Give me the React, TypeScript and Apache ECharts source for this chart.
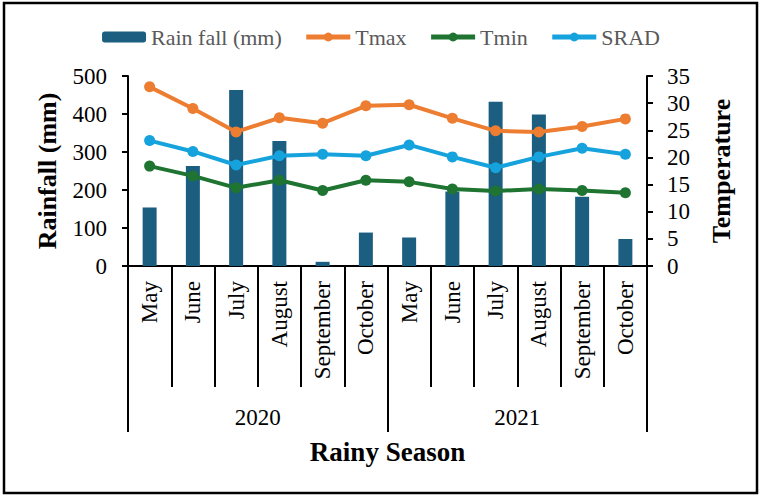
import React, { useEffect, useRef } from "react";
import * as echarts from "echarts";

const months = ["May", "June", "July", "August", "September", "October", "May", "June", "July", "August", "September", "October"];
const years = ["2020", "2021"];
const rainfall = [154, 263, 463, 329, 11, 88, 75, 196, 432, 399, 182, 71];
const tmax = [33.0, 29.0, 24.7, 27.3, 26.3, 29.5, 29.7, 27.2, 24.9, 24.7, 25.7, 27.1];
const tmin = [18.4, 16.6, 14.4, 15.8, 13.9, 15.8, 15.5, 14.2, 13.8, 14.2, 13.9, 13.5];
const srad = [23.1, 21.1, 18.6, 20.3, 20.6, 20.3, 22.3, 20.1, 18.1, 20.1, 21.7, 20.6];

const FONT = "'Liberation Serif', 'Times New Roman', serif";

export default function App() {
  const ref = useRef<HTMLDivElement>(null);
  useEffect(() => {
    if (!ref.current) return;
    const chart = echarts.init(ref.current, undefined, { renderer: "svg" });
    const lineSeries = (name: string, data: number[], color: string) => ({
      name,
      type: "line",
      xAxisIndex: 0,
      yAxisIndex: 1,
      data,
      symbol: "circle",
      symbolSize: 11,
      lineStyle: { color, width: 4 },
      itemStyle: { color },
      z: 3,
    });
    chart.setOption({
      animation: false,
      backgroundColor: "#ffffff",
      textStyle: { fontFamily: FONT },
      legend: {
        top: 21,
        left: 390,
        itemWidth: 44,
        itemHeight: 11,
        itemGap: 22,
        lineStyle: { width: 5 },
        textStyle: { fontFamily: FONT, fontSize: 22, color: "#595959" },
        data: ["Rain fall (mm)", "Tmax", "Tmin", "SRAD"],
      },
      grid: { left: 128, right: 115, top: 76, bottom: 232, containLabel: false },
      xAxis: [
        {
          type: "category",
          data: months,
          position: "bottom",
          boundaryGap: true,
          axisLine: { show: true, lineStyle: { color: "#000", width: 2 } },
          axisTick: { show: true, interval: 0, length: 121, lineStyle: { color: "#000", width: 2 } },
          axisLabel: {
            interval: 0,
            rotate: 90,
            margin: 15,
            fontFamily: FONT,
            fontSize: 23,
            color: "#000",
          },
          splitLine: { show: false },
        },
        {
          type: "category",
          data: years,
          position: "bottom",
          boundaryGap: true,
          axisLine: { show: false },
          axisTick: { show: true, interval: 0, length: 166, lineStyle: { color: "#000", width: 2 } },
          axisLabel: { interval: 0, margin: 140, fontFamily: FONT, fontSize: 23, color: "#000" },
          name: "Rainy Season",
          nameLocation: "middle",
          nameGap: 172,
          nameTextStyle: { fontFamily: FONT, fontSize: 27, fontWeight: "bold", color: "#000" },
          splitLine: { show: false },
        },
      ],
      yAxis: [
        {
          type: "value",
          min: 0,
          max: 500,
          interval: 100,
          position: "left",
          axisLine: { show: true, lineStyle: { color: "#000", width: 2 } },
          axisTick: { show: true, length: 6, lineStyle: { color: "#000", width: 2 } },
          axisLabel: { margin: 21, fontFamily: FONT, fontSize: 23, color: "#000" },
          splitLine: { show: false },
          name: "Rainfall (mm)",
          nameLocation: "middle",
          nameGap: 68,
          nameRotate: 90,
          nameTextStyle: { fontFamily: FONT, fontSize: 26, fontWeight: "bold", color: "#000" },
        },
        {
          type: "value",
          min: 0,
          max: 35,
          interval: 5,
          position: "right",
          axisLine: { show: true, lineStyle: { color: "#000", width: 2 } },
          axisTick: { show: true, length: 6, lineStyle: { color: "#000", width: 2 } },
          axisLabel: { margin: 20, fontFamily: FONT, fontSize: 23, color: "#000" },
          splitLine: { show: false },
          name: "Temperature",
          nameLocation: "middle",
          nameGap: 61,
          nameRotate: 90,
          nameTextStyle: { fontFamily: FONT, fontSize: 26, fontWeight: "bold", color: "#000" },
        },
      ],
      series: [
        {
          name: "Rain fall (mm)",
          type: "bar",
          xAxisIndex: 0,
          yAxisIndex: 0,
          data: rainfall,
          barWidth: 14,
          itemStyle: { color: "#1B5E80" },
          z: 2,
        },
        lineSeries("Tmax", tmax, "#ED7D31"),
        lineSeries("Tmin", tmin, "#1E7430"),
        lineSeries("SRAD", srad, "#16A3DD"),
      ],
      graphic: [
        {
          type: "rect",
          shape: { x: 4, y: 3, width: 753, height: 490 },
          style: { fill: "none", stroke: "#000", lineWidth: 2.5 },
          silent: true,
          z: 100,
        },
      ],
    });
    // center legend around x = 384 regardless of its computed width
    const legendOpt: any = chart.getOption().legend;
    void legendOpt;
    chart.setOption({ legend: { left: "center" } });
    return () => chart.dispose();
  }, []);
  return (
    <div
      ref={ref}
      style={{ position: "fixed", left: 0, top: 0, width: 762, height: 498, background: "#fff" }}
    />
  );
}
